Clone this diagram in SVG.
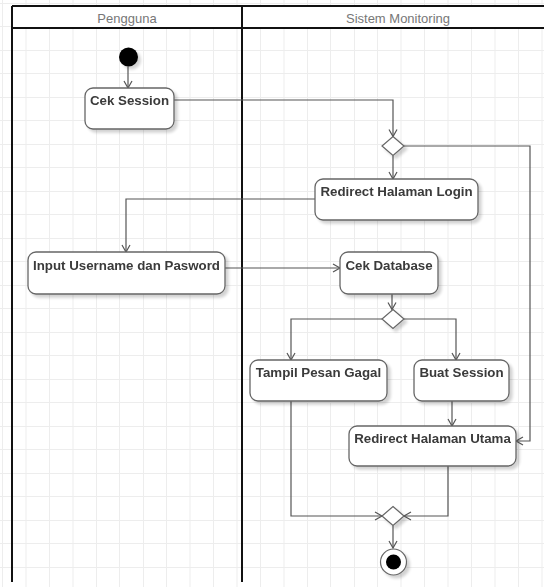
<svg xmlns="http://www.w3.org/2000/svg" width="544" height="587" viewBox="0 0 544 587">
  <defs>
    <filter id="shadow" x="-20%" y="-20%" width="150%" height="160%">
      <feGaussianBlur in="SourceAlpha" stdDeviation="1.6" result="b"/>
      <feOffset in="b" dx="3" dy="3" result="o"/>
      <feComponentTransfer in="o" result="s">
        <feFuncA type="linear" slope="0.18"/>
      </feComponentTransfer>
      <feMerge>
        <feMergeNode in="s"/>
        <feMergeNode in="SourceGraphic"/>
      </feMerge>
    </filter>
    <marker id="arrow" markerUnits="userSpaceOnUse" markerWidth="12" markerHeight="12" refX="8" refY="5" orient="auto">
      <path d="M1,1 L8,5 L1,9" fill="none" stroke="#555" stroke-width="1.2"/>
    </marker>
  </defs>
  <style>
    .grid { stroke: #ededed; stroke-width: 1; fill: none; }
    .lane { stroke: #111; stroke-width: 2; fill: none; }
    .lanetitle { font-family: "Liberation Sans", Arial, sans-serif; font-size: 13px; fill: #777; text-anchor: middle; }
    .action rect { fill: #fff; stroke: #666; stroke-width: 1.3; }
    .action text { font-family: "Liberation Sans", Arial, sans-serif; font-size: 13.3px; font-weight: bold; fill: #3a3a3a; text-anchor: middle; }
    .decision polygon { fill: #fff; stroke: #666; stroke-width: 1.2; }
    .flow { fill: none; stroke: #555; stroke-width: 1.2; }
  </style>

  <rect width="544" height="587" fill="#fff"/>

  <!-- background grid -->
  <path class="grid" d="M2.5,0V587 M26,0V587 M49.5,0V587 M73,0V587 M96.5,0V587 M119.5,0V587 M143.5,0V587 M166.5,0V587 M190,0V587 M213.5,0V587 M237,0V587 M260.5,0V587 M284,0V587 M307.5,0V587 M330.5,0V587 M354.5,0V587 M377.5,0V587 M401,0V587 M424.5,0V587 M448,0V587 M471.5,0V587 M495,0V587 M518.5,0V587 M542,0V587
    M0,3.5H544 M0,26.5H544 M0,50.5H544 M0,73.5H544 M0,97.5H544 M0,120.5H544 M0,144.5H544 M0,167.5H544 M0,191.5H544 M0,214.5H544 M0,238.5H544 M0,261.5H544 M0,285.5H544 M0,308.5H544 M0,332.5H544 M0,355.5H544 M0,379.5H544 M0,402.5H544 M0,426.5H544 M0,449.5H544 M0,473.5H544 M0,496.5H544 M0,520.5H544 M0,543.5H544 M0,567.5H544"/>

  <!-- swimlanes -->
  <g id="lanes">
    <rect x="12" y="6" width="534" height="22" fill="#fff"/>
    <path class="lane" d="M12,6H546 M12,28H546 M12,6V582 M242,6V582"/>
    <text class="lanetitle" x="127" y="22.5">Pengguna</text>
    <text class="lanetitle" x="398" y="22.5">Sistem Monitoring</text>
  </g>

  <!-- connectors -->
  <g id="connectors">
    <path class="flow" d="M128,66.5V88" marker-end="url(#arrow)"/>
    <path class="flow" d="M174,100H393V136.5" marker-end="url(#arrow)"/>
    <path class="flow" d="M393,155.5V179" marker-end="url(#arrow)"/>
    <path class="flow" d="M404,146H530V441H516" marker-end="url(#arrow)"/>
    <path class="flow" d="M315,199H126V252" marker-end="url(#arrow)"/>
    <path class="flow" d="M225,268H340" marker-end="url(#arrow)"/>
    <path class="flow" d="M392,294V309.5" marker-end="url(#arrow)"/>
    <path class="flow" d="M382,319H291V360" marker-end="url(#arrow)"/>
    <path class="flow" d="M404,319H456V360" marker-end="url(#arrow)"/>
    <path class="flow" d="M452,401V426" marker-end="url(#arrow)"/>
    <path class="flow" d="M291,401V516H382" marker-end="url(#arrow)"/>
    <path class="flow" d="M448,466V516H404" marker-end="url(#arrow)"/>
    <path class="flow" d="M393,525.5V548" marker-end="url(#arrow)"/>
  </g>

  <!-- nodes -->
  <g id="start" filter="url(#shadow)">
    <circle cx="128.5" cy="57" r="9.5" fill="#000"/>
  </g>

  <g id="cek-session" class="action" filter="url(#shadow)">
    <rect x="85" y="88" width="89" height="41" rx="8"/>
    <text x="129.5" y="105">Cek Session</text>
  </g>

  <g id="decision-session" class="decision" filter="url(#shadow)">
    <polygon points="393,136.5 404,146 393,155.5 382,146"/>
  </g>

  <g id="redirect-login" class="action" filter="url(#shadow)">
    <rect x="315" y="179" width="163" height="41" rx="8"/>
    <text x="396.5" y="196">Redirect Halaman Login</text>
  </g>

  <g id="input-user" class="action" filter="url(#shadow)">
    <rect x="28" y="252" width="197" height="42" rx="8"/>
    <text x="126.5" y="269.5">Input Username dan Pasword</text>
  </g>

  <g id="cek-database" class="action" filter="url(#shadow)">
    <rect x="340" y="252" width="98" height="42" rx="8"/>
    <text x="389" y="269.5">Cek Database</text>
  </g>

  <g id="decision-login" class="decision" filter="url(#shadow)">
    <polygon points="393,309.5 404,319 393,328.5 382,319"/>
  </g>

  <g id="pesan-gagal" class="action" filter="url(#shadow)">
    <rect x="250" y="360" width="137" height="41" rx="8"/>
    <text x="318.5" y="377">Tampil Pesan Gagal</text>
  </g>

  <g id="buat-session" class="action" filter="url(#shadow)">
    <rect x="414" y="360" width="95" height="41" rx="8"/>
    <text x="461.5" y="377">Buat Session</text>
  </g>

  <g id="redirect-utama" class="action" filter="url(#shadow)">
    <rect x="349" y="426" width="167" height="40" rx="8"/>
    <text x="432.5" y="443">Redirect Halaman Utama</text>
  </g>

  <g id="merge" class="decision" filter="url(#shadow)">
    <polygon points="393,506.5 404,516 393,525.5 382,516"/>
  </g>

  <g id="end" filter="url(#shadow)">
    <circle cx="393.5" cy="562" r="13" fill="#fff" stroke="#666" stroke-width="1.2"/>
    <circle cx="393.5" cy="562" r="7.5" fill="#000"/>
  </g>
</svg>
